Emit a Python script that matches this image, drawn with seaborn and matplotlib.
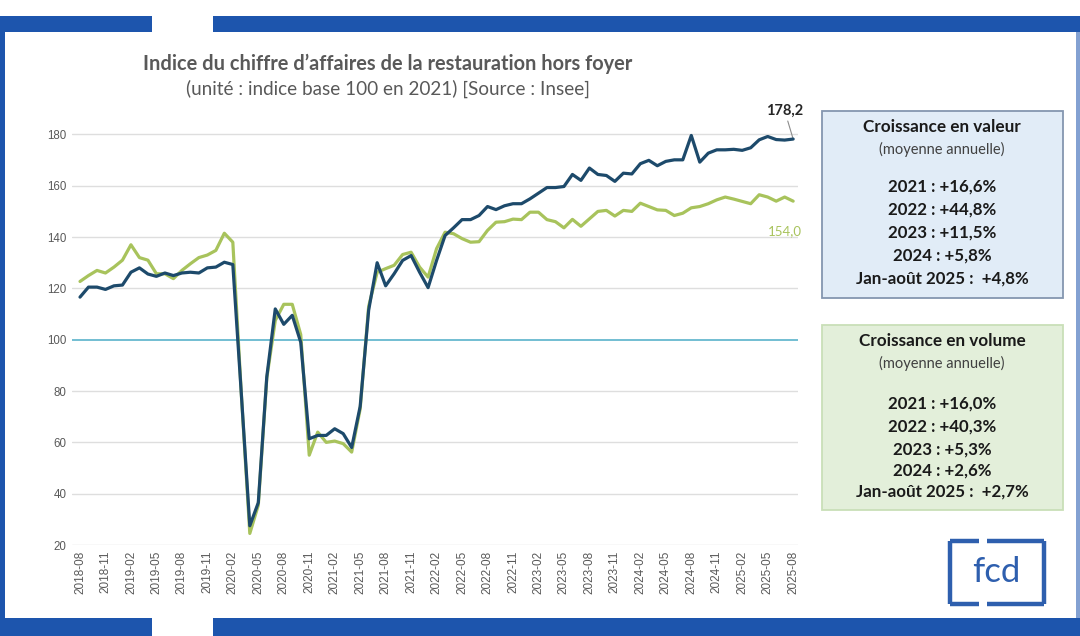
import matplotlib
matplotlib.use("Agg")
import matplotlib.pyplot as plt
from matplotlib.patches import Rectangle
from matplotlib.lines import Line2D
import numpy as np
import pandas as pd
import seaborn as sns

# months 2018-08 .. 2025-08
months = [str(p) for p in pd.period_range("2018-08", "2025-08", freq="M")]

valeur = [116.6, 120.5, 120.5, 119.6, 121.0, 121.3, 126.3, 128.0, 125.6, 124.7,
          126.0, 125.0, 126.0, 126.3, 126.0, 128.0, 128.3, 130.2, 129.3, 79.0,
          27.5, 36.5, 85.5, 112.0, 106.0, 109.5, 99.0, 61.4, 62.7, 62.7,
          65.3, 63.4, 58.0, 74.0, 111.5, 130.0, 121.0, 125.7, 130.9, 132.8,
          126.3, 120.3, 130.9, 140.6, 143.6, 146.8, 146.8, 148.4, 151.9, 150.7,
          152.2, 153.0, 153.0, 154.9, 157.1, 159.3, 159.3, 159.7, 164.4, 162.1,
          166.9, 164.4, 164.0, 161.7, 164.9, 164.6, 168.6, 169.9, 167.8, 169.5,
          170.1, 170.1, 179.6, 169.2, 172.7, 174.0, 174.0, 174.2, 173.8, 174.8,
          177.9, 179.2, 178.0, 177.8, 178.2]

volume = [122.7, 125.0, 127.0, 126.0, 128.3, 131.0, 137.0, 132.0, 131.0, 125.7,
          125.7, 123.8, 127.0, 129.6, 132.0, 133.0, 134.8, 141.5, 138.0, 79.0,
          24.5, 35.5, 85.0, 107.5, 113.8, 113.8, 102.0, 55.0, 64.0, 60.0,
          60.5, 59.5, 56.2, 73.0, 113.0, 126.3, 127.7, 129.0, 133.2, 134.1,
          128.3, 124.4, 135.5, 141.9, 141.3, 139.4, 138.0, 138.2, 142.6, 145.8,
          146.0, 147.0, 146.8, 149.7, 149.7, 146.8, 146.0, 143.6, 146.9, 144.2,
          147.1, 150.0, 150.4, 148.2, 150.4, 150.0, 153.2, 151.9, 150.6, 150.4,
          148.4, 149.3, 151.4, 151.9, 153.0, 154.5, 155.6, 154.8, 153.9, 153.0,
          156.5, 155.6, 154.0, 155.6, 154.0]

yticks = [20, 40, 60, 80, 100, 120, 140, 160, 180]

box_valeur = ["2021 : +16,6%", "2022 : +44,8%", "2023 : +11,5%", "2024 : +5,8%",
              "Jan-août 2025 :  +4,8%"]
box_volume = ["2021 : +16,0%", "2022 : +40,3%", "2023 : +5,3%", "2024 : +2,6%",
              "Jan-août 2025 :  +2,7%"]

DARK = "#1d4a6b"
GREEN = "#a8c35c"
BLUE = "#1d55ad"
GREY = "#595959"

df = pd.DataFrame({"idx": np.arange(len(months)), "mois": months,
                   "valeur": valeur, "volume": volume})

sns.set_style("white")
plt.rcParams["font.family"] = ["Lato", "DejaVu Sans"]

W, H = 1080, 636
fig = plt.figure(figsize=(W / 100, H / 100), dpi=100)


def fx(x):
    return x / W


def fy(y):
    return 1 - y / H


def rect(x0, y0, x1, y1, **kw):
    fig.add_artist(Rectangle((fx(x0), fy(y1)), fx(x1) - fx(x0), fy(y0) - fy(y1),
                             transform=fig.transFigure, **kw))


# frame
for (x0, x1) in [(0, 152), (213, W)]:
    rect(x0, 16, x1, 32, color=BLUE, lw=0)
    rect(x0, 618, x1, H, color=BLUE, lw=0)
rect(0, 32, 5, 618, color=BLUE, lw=0)
rect(1076, 32, W, 618, color=BLUE, lw=0, alpha=0.55)

# chart area
ax_left, ax_right = 72, 798
ax_bottom, ax_top = 545, 121.6
ax = fig.add_axes([fx(ax_left), fy(ax_bottom), fx(ax_right) - fx(ax_left),
                   fy(ax_top) - fy(ax_bottom)])

ax.set_xlim((ax_left - 80) / 8.49, (ax_right - 80) / 8.49)
ax.set_ylim(20, 185)

for t in yticks:
    if t == 100:
        ax.axhline(t, color="#4bacc6", lw=1.1, zorder=1)
    else:
        ax.axhline(t, color="#dedede", lw=1.0, zorder=0)

sns.lineplot(data=df, x="idx", y="volume", ax=ax, color=GREEN, lw=2.3, zorder=3)
sns.lineplot(data=df, x="idx", y="valeur", ax=ax, color=DARK, lw=2.3, zorder=4)

ax.set_yticks(yticks)
ax.set_yticklabels([str(t) for t in yticks], family="Liberation Sans", fontsize=8.3,
                   color=GREY)
ax.set_xticks(df["idx"][::3])
ax.set_xticklabels(df["mois"][::3], rotation=90, family="Liberation Sans",
                   fontsize=8.5, color=GREY)
ax.tick_params(length=0, pad=4)
ax.set_xlabel("")
ax.set_ylabel("")
sns.despine(ax=ax, left=True, bottom=True)

# end labels
last = len(months) - 1
ax.annotate("178,2", xy=(last, valeur[-1]), xytext=(last - 1.0, 186.5),
            fontsize=10.5, fontweight="bold", color="#262626", ha="center",
            va="bottom", annotation_clip=False,
            arrowprops=dict(arrowstyle="-", color="#8c8c8c", lw=0.8,
                            shrinkA=0, shrinkB=1))
ax.text(last - 1.0, 142.5, "154,0", fontsize=9.5, color=GREEN, ha="center",
        va="center")

# titles
fig.text(fx(388), fy(64), "Indice du chiffre d\u2019affaires de la restauration hors foyer",
         fontsize=14.4, fontweight="bold", color=GREY, ha="center", va="center")
fig.text(fx(388), fy(89), "(unité : indice base 100 en 2021) [Source : Insee]",
         fontsize=13.6, color=GREY, ha="center", va="center")


def draw_box(y0, y1, face, edge, head, lines, line_ys):
    rect(822, y0, 1063, y1, facecolor=face, edgecolor=edge, lw=1.3)
    cx = fx(942)
    fig.text(cx, fy(y0 + 16), head, fontsize=12.3, fontweight="bold",
             color="#1a1a1a", ha="center", va="center")
    fig.text(cx, fy(y0 + 38), "(moyenne annuelle)", fontsize=10.5,
             color="#404040", ha="center", va="center")
    for s, yy in zip(lines, line_ys):
        fig.text(cx, fy(yy), s, fontsize=12.2, fontweight="bold",
                 color="#1a1a1a", ha="center", va="center")


draw_box(111, 298, "#e1ecf7", "#8496b0", "Croissance en valeur", box_valeur,
         [187, 210, 233, 256, 279])
draw_box(325, 510, "#e3efda", "#c9dfb8", "Croissance en volume", box_volume,
         [404, 427, 450, 471, 492])

# logo
for seg in [((950, 979), (541, 541)), ((987, 1044), (541, 541)),
            ((950, 979), (604, 604)), ((987, 1044), (604, 604)),
            ((950, 950), (541, 604)), ((1044, 1044), (541, 604))]:
    fig.add_artist(Line2D([fx(v) for v in seg[0]], [fy(v) for v in seg[1]],
                          transform=fig.transFigure, color="#2e5fae",
                          lw=3.2, solid_capstyle="butt"))
fig.text(fx(996), fy(572), "fcd", fontsize=25, color="#2e5fae", ha="center",
         va="center")

fig.savefig("out.png", dpi=100)
